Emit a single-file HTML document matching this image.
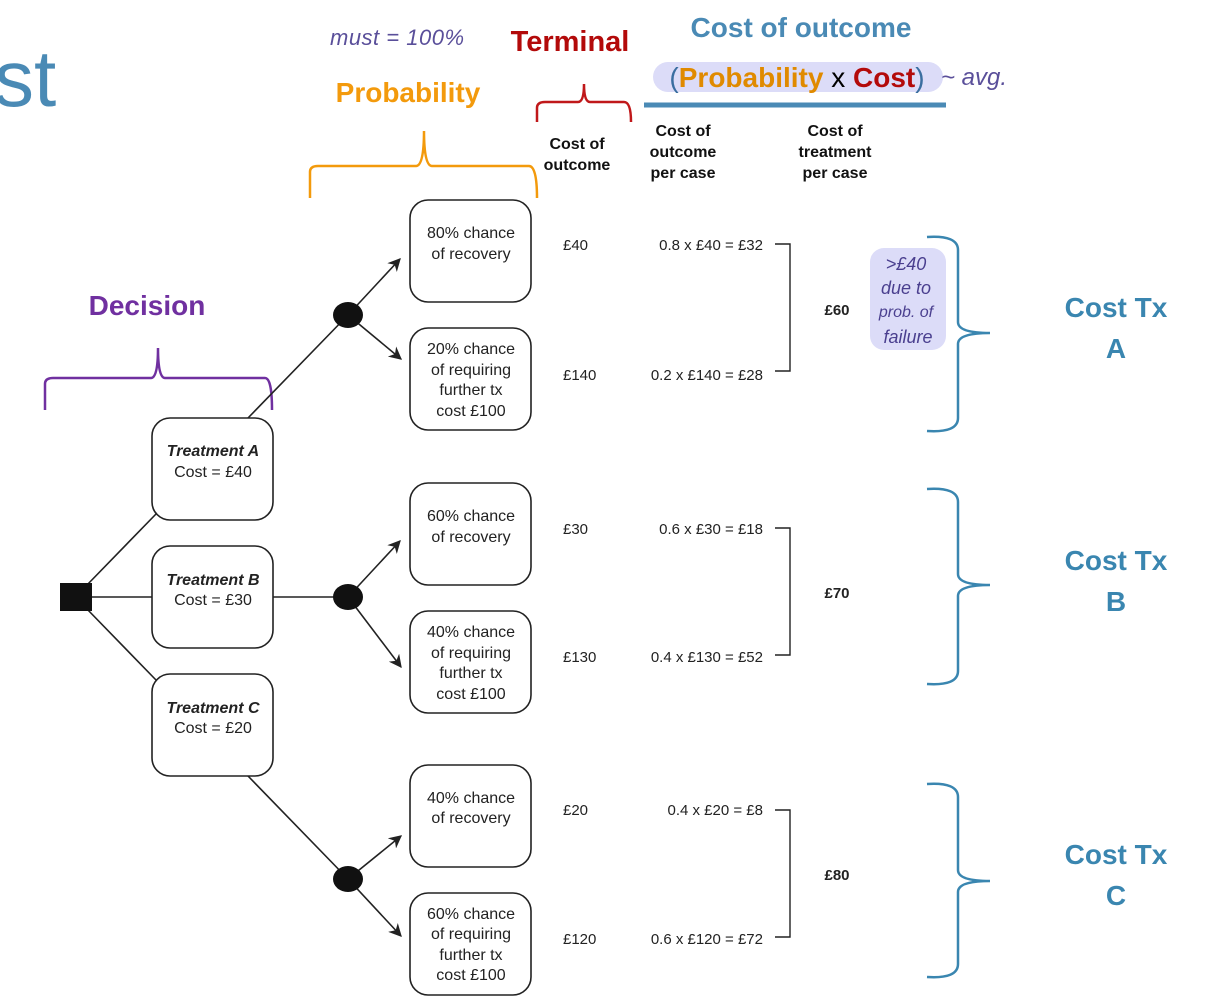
<!DOCTYPE html>
<html><head><meta charset="utf-8"><style>
html,body{margin:0;padding:0;background:#fff;}
svg{display:block;}
text{font-family:"Liberation Sans",sans-serif;}
</style></head><body>
<svg width="1214" height="1000" viewBox="0 0 1214 1000" xmlns="http://www.w3.org/2000/svg">
<defs>
<marker id="ar" viewBox="0 0 10 10" refX="9" refY="5" markerWidth="13" markerHeight="13" orient="auto" markerUnits="userSpaceOnUse"><path d="M0,0 L10,5 L0,10 L3,5 Z" fill="#222"/></marker>
</defs>
<text x="-6" y="106" font-size="80" fill="#4a8ab5">st</text>
<text x="330" y="45" font-size="22" fill="#5a4f9a" font-style="italic" letter-spacing="0.5">must = 100%</text>
<text x="570" y="51" font-size="29" font-weight="bold" fill="#b30a0a" text-anchor="middle">Terminal</text>
<text x="408" y="102" font-size="28" font-weight="bold" fill="#f39a0c" text-anchor="middle">Probability</text>
<text x="801" y="37" font-size="28" font-weight="bold" fill="#4a8ab5" text-anchor="middle">Cost of outcome</text>
<rect x="653" y="62" width="290" height="30" rx="15" fill="#dcdcf8"/>
<text x="797" y="87" font-size="28" text-anchor="middle"><tspan fill="#3a6ea0">(</tspan><tspan fill="#e08a00" font-weight="bold">Probability</tspan><tspan fill="#000"> x </tspan><tspan fill="#b30a0a" font-weight="bold">Cost</tspan><tspan fill="#3a6ea0">)</tspan></text>
<text x="941" y="85" font-size="24" fill="#5a4f9a" font-style="italic">~ avg.</text>
<line x1="644" y1="105" x2="946" y2="105" stroke="#4a8ab5" stroke-width="5"/>
<path d="M537,122 L537,108 Q537,102 545,102 L578,102 Q584,102 584,84 Q584,102 590,102 L624,102 Q631,102 631,122" fill="none" stroke="#c0181a" stroke-width="2.5"/>
<path d="M310,198 L310,172 Q310,166 318,166 L416,166 Q424,166 424,131 Q424,166 432,166 L529,166 Q537,166 537,198" fill="none" stroke="#f39a0c" stroke-width="2.5"/>
<path d="M45,410 L45,384 Q45,378 53,378 L151,378 Q158,378 158,348 Q158,378 165,378 L265,378 Q272,378 272,410" fill="none" stroke="#7030a0" stroke-width="2.5"/>
<text x="147" y="315" font-size="28" font-weight="bold" fill="#7030a0" text-anchor="middle">Decision</text>
<g font-size="16" font-weight="bold" fill="#111" text-anchor="middle">
<text x="577" y="149">Cost of</text><text x="577" y="170">outcome</text>
<text x="683" y="136">Cost of</text><text x="683" y="157">outcome</text><text x="683" y="178">per case</text>
<text x="835" y="136">Cost of</text><text x="835" y="157">treatment</text><text x="835" y="178">per case</text>
</g>
<g stroke="#222" stroke-width="1.6" fill="none">
<line x1="86" y1="586" x2="156" y2="514"/>
<line x1="92" y1="597" x2="152" y2="597"/>
<line x1="86" y1="608" x2="156" y2="680"/>
<line x1="248" y1="418" x2="348" y2="315"/>
<line x1="273" y1="597" x2="348" y2="597"/>
<line x1="248" y1="776" x2="348" y2="879"/>
<line x1="348" y1="315" x2="400" y2="259" marker-end="url(#ar)"/>
<line x1="348" y1="315" x2="401" y2="359" marker-end="url(#ar)"/>
<line x1="348" y1="597" x2="400" y2="541" marker-end="url(#ar)"/>
<line x1="348" y1="597" x2="401" y2="667" marker-end="url(#ar)"/>
<line x1="348" y1="879" x2="401" y2="836" marker-end="url(#ar)"/>
<line x1="348" y1="879" x2="401" y2="936" marker-end="url(#ar)"/>
</g>
<rect x="60" y="583" width="32" height="28" fill="#111"/>
<ellipse cx="348" cy="315" rx="15" ry="13" fill="#111"/>
<ellipse cx="348" cy="597" rx="15" ry="13" fill="#111"/>
<ellipse cx="348" cy="879" rx="15" ry="13" fill="#111"/>
<g fill="#fff" stroke="#222" stroke-width="1.6">
<rect x="152" y="418" width="121" height="102" rx="18"/>
<rect x="152" y="546" width="121" height="102" rx="18"/>
<rect x="152" y="674" width="121" height="102" rx="18"/>
<rect x="410" y="200" width="121" height="102" rx="18"/>
<rect x="410" y="328" width="121" height="102" rx="18"/>
<rect x="410" y="483" width="121" height="102" rx="18"/>
<rect x="410" y="611" width="121" height="102" rx="18"/>
<rect x="410" y="765" width="121" height="102" rx="18"/>
<rect x="410" y="893" width="121" height="102" rx="18"/>
</g>
<g font-size="16" fill="#222" text-anchor="middle">
<text x="213" y="456" font-weight="bold" font-style="italic">Treatment A</text><text x="213" y="477">Cost = £40</text>
<text x="213" y="585" font-weight="bold" font-style="italic">Treatment B</text><text x="213" y="605">Cost = £30</text>
<text x="213" y="713" font-weight="bold" font-style="italic">Treatment C</text><text x="213" y="733">Cost = £20</text>
<text x="471" y="238">80% chance</text><text x="471" y="259">of recovery</text>
<text x="471" y="354">20% chance</text><text x="471" y="375">of requiring</text><text x="471" y="395">further tx</text><text x="471" y="416">cost £100</text>
<text x="471" y="521">60% chance</text><text x="471" y="542">of recovery</text>
<text x="471" y="637">40% chance</text><text x="471" y="658">of requiring</text><text x="471" y="678">further tx</text><text x="471" y="699">cost £100</text>
<text x="471" y="803">40% chance</text><text x="471" y="823">of recovery</text>
<text x="471" y="919">60% chance</text><text x="471" y="939">of requiring</text><text x="471" y="960">further tx</text><text x="471" y="980">cost £100</text>
</g>
<g font-size="15" fill="#222">
<text x="563" y="250">£40</text><text x="563" y="380">£140</text>
<text x="563" y="534">£30</text><text x="563" y="662">£130</text>
<text x="563" y="815">£20</text><text x="563" y="944">£120</text>
</g>
<g font-size="15" fill="#222" text-anchor="end">
<text x="763" y="250">0.8 x £40 = £32</text><text x="763" y="380">0.2 x £140 = £28</text>
<text x="763" y="534">0.6 x £30 = £18</text><text x="763" y="662">0.4 x £130 = £52</text>
<text x="763" y="815">0.4 x £20 = £8</text><text x="763" y="944">0.6 x £120 = £72</text>
</g>
<g stroke="#222" stroke-width="1.4" fill="none">
<path d="M775,244 L790,244 L790,371 L775,371"/>
<path d="M775,528 L790,528 L790,655 L775,655"/>
<path d="M775,810 L790,810 L790,937 L775,937"/>
</g>
<g font-size="15" font-weight="bold" fill="#222" text-anchor="middle">
<text x="837" y="315">£60</text><text x="837" y="598">£70</text><text x="837" y="880">£80</text>
</g>
<rect x="870" y="248" width="76" height="102" rx="14" fill="#dcdcf8"/>
<g font-size="18" fill="#4a3f8f" font-style="italic" text-anchor="middle">
<text x="906" y="270">&gt;£40</text><text x="906" y="294">due to</text><text x="906" y="317" font-size="16">prob. of</text><text x="908" y="343">failure</text>
</g>
<g stroke="#3a86b0" stroke-width="2.5" fill="none">
<path d="M927,237 Q958,235 958,250 L958,322 Q958,333 990,333 Q958,333 958,344 L958,418 Q958,433 927,431"/>
<path d="M927,489 Q958,487 958,502 L958,574 Q958,585 990,585 Q958,585 958,596 L958,671 Q958,686 927,684"/>
<path d="M927,784 Q958,782 958,797 L958,870 Q958,881 990,881 Q958,881 958,892 L958,964 Q958,979 927,977"/>
</g>
<g font-size="28" font-weight="bold" fill="#3a86b0" text-anchor="middle">
<text x="1116" y="317">Cost Tx</text><text x="1116" y="358">A</text>
<text x="1116" y="570">Cost Tx</text><text x="1116" y="611">B</text>
<text x="1116" y="864">Cost Tx</text><text x="1116" y="905">C</text>
</g>
</svg>
</body></html>
